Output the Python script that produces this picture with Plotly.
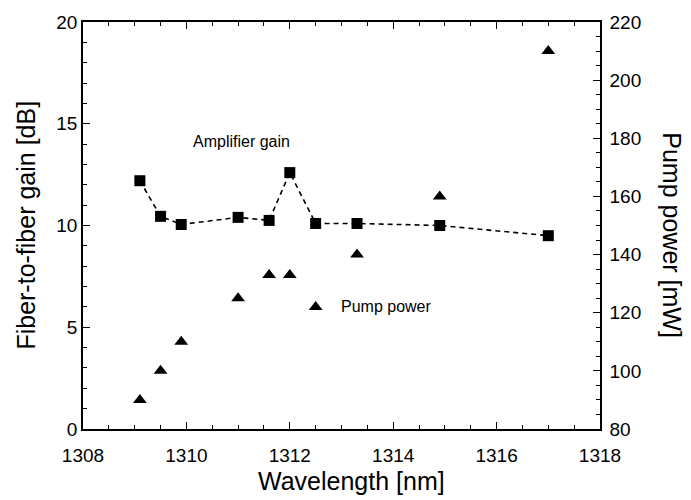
import plotly.graph_objects as go

# Measured amplifier performance versus signal wavelength
wavelength_nm = [1309.1, 1309.5, 1309.9, 1311.0, 1311.6, 1312.0, 1312.5, 1313.3, 1314.9, 1317.0]
gain_db = [12.2, 10.45, 10.05, 10.4, 10.25, 12.6, 10.1, 10.1, 10.0, 9.5]
pump_mw = [90, 100, 110, 125, 133, 133, 122, 140, 160, 210]

FONT = "Liberation Sans, Arial, sans-serif"

fig = go.Figure()

fig.add_trace(go.Scatter(
    x=wavelength_nm, y=gain_db, mode="lines+markers",
    line=dict(color="black", width=1.6, dash="5px,4px"),
    marker=dict(symbol="square", size=11, color="black"),
    yaxis="y", showlegend=False,
))
fig.add_trace(go.Scatter(
    x=wavelength_nm, y=pump_mw, mode="markers",
    marker=dict(symbol="triangle-up", size=12, color="black"),
    yaxis="y2", showlegend=False,
))

axis_common = dict(
    showgrid=False, zeroline=False, showline=True, linecolor="black", linewidth=1.5,
    ticks="inside", ticklen=7, tickwidth=1.2, tickcolor="black",
    tickfont=dict(family=FONT, size=19, color="black"),
)

fig.update_layout(
    width=691, height=500,
    margin=dict(l=83, r=91, t=16, b=71),
    paper_bgcolor="white", plot_bgcolor="white",
    xaxis=dict(
        range=[1308, 1318], tickmode="linear", tick0=1308, dtick=2,
        mirror="ticks", ticklabelstandoff=8,
        minor=dict(dtick=0.5, ticks="inside", ticklen=4, tickcolor="black", tickwidth=1),
        **axis_common,
    ),
    yaxis=dict(
        range=[0, 20], tickmode="linear", tick0=0, dtick=5,
        minor=dict(dtick=1, ticks="inside", ticklen=4, tickcolor="black", tickwidth=1),
        **axis_common,
    ),
    yaxis2=dict(
        range=[80, 220], tickmode="linear", tick0=80, dtick=20,
        overlaying="y", side="right", ticklabelstandoff=4,
        minor=dict(dtick=5, ticks="inside", ticklen=4, tickcolor="black", tickwidth=1),
        **axis_common,
    ),
    annotations=[
        dict(text="Wavelength [nm]", xref="paper", yref="paper", x=0.52, y=-0.128,
             yanchor="middle", xanchor="center", showarrow=False,
             font=dict(family=FONT, size=25, color="black")),
        dict(text="Fiber-to-fiber gain [dB]", xref="paper", yref="paper", x=-0.112, y=0.5,
             xanchor="center", yanchor="middle", textangle=-90, showarrow=False,
             font=dict(family=FONT, size=25, color="black")),
        dict(text="Pump power [mW]", xref="paper", yref="paper", x=1.14, y=0.475,
             xanchor="center", yanchor="middle", textangle=90, showarrow=False,
             font=dict(family=FONT, size=25, color="black")),
        dict(text="Amplifier gain", xref="x", yref="y", x=1311.07, y=14.15,
             xanchor="center", yanchor="middle", showarrow=False,
             font=dict(family=FONT, size=16, color="black")),
        dict(text="Pump power", xref="x", yref="y2", x=1312.95, y=122,
             xanchor="left", yanchor="middle", showarrow=False,
             font=dict(family=FONT, size=16, color="black")),
    ],
)

fig.write_html("out.html")
